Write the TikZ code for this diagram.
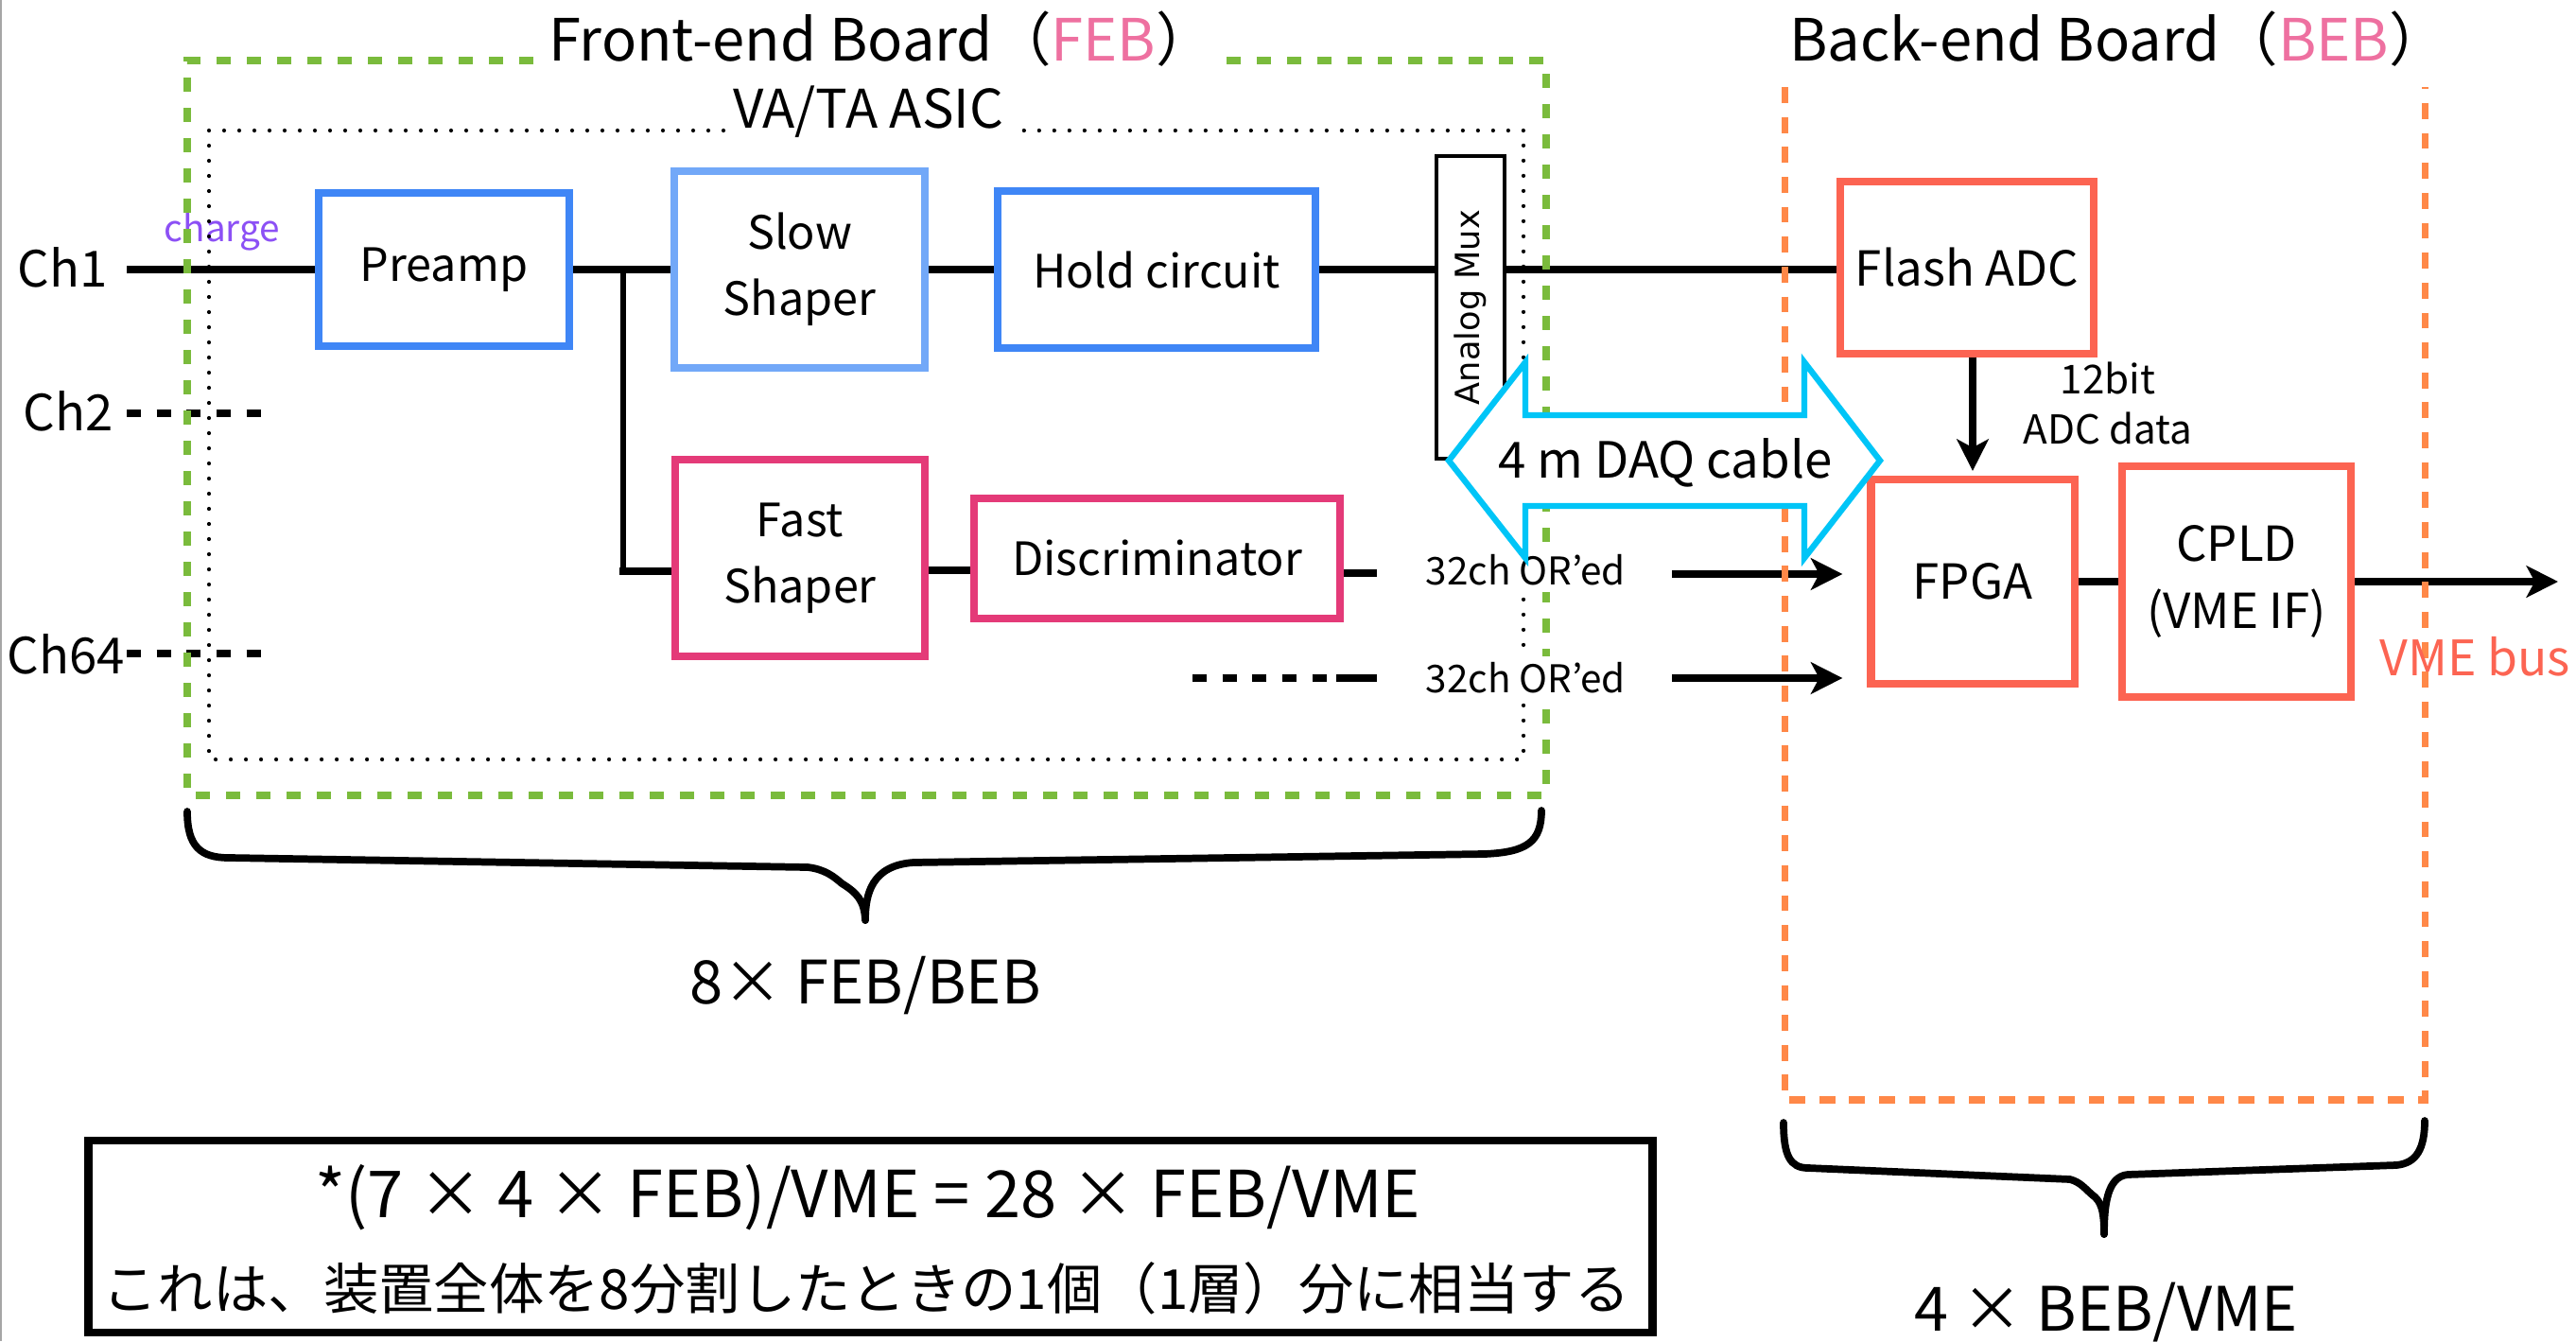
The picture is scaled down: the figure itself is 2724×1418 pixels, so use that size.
\documentclass[tikz,border=0pt]{standalone}
\usepackage{fontspec}
\setmainfont{Noto Sans CJK JP}
\newfontfamily\muxfont{DejaVu Sans}
\usetikzlibrary{arrows.meta}
\definecolor{boxblue}{HTML}{3F86F6}
\definecolor{boxlightblue}{HTML}{72A8F8}
\definecolor{boxpink}{HTML}{E43A78}
\definecolor{boxred}{HTML}{FC6452}
\definecolor{febgreen}{HTML}{7ABB3C}
\definecolor{beborange}{HTML}{FF8848}
\definecolor{titlepink}{HTML}{EE70A0}
\definecolor{chargeviolet}{HTML}{8C50F5}
\definecolor{cablecyan}{HTML}{00C5F7}
\tikzset{
  blk/.style={draw, line width=2.3pt, inner sep=0pt, align=center,
    font=\fontsize{13.8pt}{20pt}\selectfont},
  wire/.style={line width=2.3pt},
  thinwire/.style={line width=1.6pt},
  arr/.style={line width=2.1pt, -{Stealth[length=9.5pt, width=9.5pt, inset=2.5pt]}},
  chdash/.style={line width=2.3pt, dash pattern=on 4.3pt off 4.7pt},
  febline/.style={febgreen, line width=2.3pt, dash pattern=on 4.3pt off 4.8pt},
  bebline/.style={beborange, line width=2pt, dash pattern=on 4.8pt off 4.2pt},
  asicline/.style={line width=1.2pt, line cap=round, dash pattern=on 0pt off 4.55pt},
  lbl/.style={inner sep=0pt, font=\fontsize{15pt}{18pt}\selectfont},
  small/.style={inner sep=0pt, font=\fontsize{12pt}{14pt}\selectfont},
  titletext/.style={inner sep=0pt, font=\fontsize{17.5pt}{22pt}\selectfont},
  bracepath/.style={line width=2.2pt, line cap=round, line join=round},
}
\begin{document}
\begin{tikzpicture}[x=0.01cm, y=-0.01cm]
\useasboundingbox (0,0) rectangle (2724,1418);
\fill[white] (0,0) rectangle (2724,1418);
\draw[gray!70, line width=0.7pt] (1,0) -- (1,1418);

% ---- front-end blocks ----
\node[blk, draw=boxblue, minimum width=2.65cm, minimum height=1.62cm] (pre) at (469.5,285) {Preamp};
\node[blk, draw=boxlightblue, minimum width=2.65cm, minimum height=2.07cm] (slow) at (845.5,285) {Slow\\Shaper};
\node[blk, draw=boxblue, minimum width=3.36cm, minimum height=1.65cm] (hold) at (1223,285) {Hold circuit};
\node[draw, line width=1.3pt, minimum width=0.72cm, minimum height=3.2cm, inner sep=0pt] (mux) at (1555,325) {};
\node[rotate=90, inner sep=0pt, font=\muxfont\fontsize{10pt}{12pt}\selectfont] (muxlbl) at (mux.center) {Analog Mux};
\node[blk, draw=boxpink, minimum width=2.64cm, minimum height=2.08cm] (fast) at (846,590) {Fast\\Shaper};
\node[blk, draw=boxpink, minimum width=3.87cm, minimum height=1.27cm] (disc) at (1223.5,590.5) {Discriminator};

% ---- back-end blocks ----
\node[blk, draw=boxred, minimum width=2.67cm, minimum height=1.81cm, font=\fontsize{14.5pt}{20pt}\selectfont] (flash) at (2080,283) {Flash ADC};
\node[blk, draw=boxred, minimum width=2.15cm, minimum height=2.16cm, font=\fontsize{14.5pt}{20pt}\selectfont] (fpga) at (2086,615) {FPGA};
\node[blk, draw=boxred, minimum width=2.42cm, minimum height=2.43cm, font=\fontsize{14.5pt}{20pt}\selectfont] (cpld) at (2365,615) {CPLD\\(VME IF)};

% ---- channel inputs ----
\node[lbl] (ch1) at (66,283) {Ch1};
\node[lbl] (ch2) at (72,435) {Ch2};
\node[lbl] (ch64) at (70,692) {Ch64};
\node[inner sep=0pt, font=\fontsize{11pt}{13pt}\selectfont, text=chargeviolet] (charge) at (235,245) {charge};
\coordinate (c1) at (134,285);
\coordinate (c2a) at (134,437);
\coordinate (c2b) at (277,437);
\coordinate (c64a) at (134,691);
\coordinate (c64b) at (277,691);

% ---- signal wires ----
\draw[wire] (c1) -- (pre.west);
\draw[wire] (pre.east) -- (slow.west);
\draw[wire] (slow.east) -- (hold.west);
\draw[wire] (hold.east) -- (hold.east -| mux.west);
\draw[wire] (mux.east |- 0,285) -- (flash.west |- 0,285);
\coordinate (br) at (659,285);
\coordinate (lo) at ([yshift=-0.14cm]fast.west);
\draw[thinwire] (br) -- (br |- lo);
\draw[wire] ([xshift=-0.04cm]br |- lo) -- (lo);
\draw[wire] ([yshift=-0.13cm]fast.east) -- ([yshift=-0.13cm]fast.east -| disc.west);
\coordinate (s1) at (1456,606);
\draw[wire] (disc.east |- s1) -- (s1);
\draw[chdash] (c2a) -- (c2b);
\draw[chdash] (c64a) -- (c64b);
\coordinate (d2a) at (1261,717);
\coordinate (d2b) at (1413,717);
\coordinate (d2c) at (1456,717);
\draw[chdash] (d2a) -- (d2b);
\draw[wire] (d2b) -- (d2c);

% ---- back-end wiring ----
\coordinate (a1) at (1768,607);
\coordinate (a2) at (1768,717);
\draw[arr, shorten >=0.26cm] (a1) -- (a1 -| fpga.west);
\draw[arr, shorten >=0.26cm] (a2) -- (a2 -| fpga.west);
\draw[arr, shorten >=0.05cm] (flash.south -| fpga.north) -- (fpga.north);
\draw[wire] (fpga.east) -- (cpld.west);
\coordinate (vme) at (2705,615);
\draw[arr] (cpld.east) -- (vme);

% ---- board outlines ----
\draw[febline] (564,64) -- (198,64) -- (198,841) -- (1635,841) -- (1635,64) -- (1287,64);
\draw[asicline] (765,138) -- (221,138) -- (221,803) -- (1611,803) -- (1611,138) -- (1070,138);
\draw[bebline] (1887,92) -- (1887,1163) -- (2564,1163) -- (2564,92);

% ---- labels ----
\node[titletext] (febt) at (932,41) {Front-end Board（\textcolor{titlepink}{FEB}）};
\node[titletext] (bebt) at (2240,41) {Back-end Board（\textcolor{titlepink}{BEB}）};
\node[inner sep=0pt, font=\fontsize{16pt}{18pt}\selectfont] (asic) at (918,118) {VA/TA ASIC};
\node[inner sep=2pt, fill=white, font=\fontsize{11.5pt}{14pt}\selectfont] (or1) at (1613,603) {32ch OR’ed};
\node[inner sep=2pt, fill=white, font=\fontsize{11.5pt}{14pt}\selectfont] (or2) at (1613,717) {32ch OR’ed};
\node[small] (bits) at (2229,400) {12bit};
\node[small] (adcd) at (2229,453) {ADC data};
\node[inner sep=0pt, font=\fontsize{14.7pt}{18pt}\selectfont, text=boxred] (vmebus) at (2617,694) {VME bus};

% ---- DAQ cable ----
\draw[cablecyan, line width=1.8pt, fill=white, line join=miter]
  (1532,487) -- (1613,383) -- (1613,439) -- (1908,439) -- (1908,383) -- (1988,487)
  -- (1908,590) -- (1908,535) -- (1613,535) -- (1613,590) -- cycle;
\node[inner sep=0pt, font=\fontsize{15pt}{18pt}\selectfont] (cable) at (1761,489) {4 m DAQ cable};

% ---- braces ----
\draw[bracepath] (198,858) .. controls (198,895) and (212,907) .. (242,907)
  -- (854,917) .. controls (872,919) and (882,927) .. (890,934)
  .. controls (906,944) and (914,952) .. (915,973);
\draw[bracepath] (915,973) .. controls (915,945) and (922,915) .. (966,912)
  -- (1570,903) .. controls (1615,901) and (1630,890) .. (1630,857);
\node[inner sep=0pt, font=\fontsize{18pt}{22pt}\selectfont] (feblbl) at (915,1042) {8× FEB/BEB};

\draw[bracepath] (1886,1187) .. controls (1886,1222) and (1893,1235) .. (1912,1235)
  -- (2189,1247) .. controls (2200,1250) and (2205,1257) .. (2212,1263)
  .. controls (2222,1270) and (2225,1280) .. (2225,1305);
\draw[bracepath] (2225,1305) .. controls (2225,1275) and (2228,1244) .. (2250,1242)
  -- (2534,1232) .. controls (2555,1230) and (2564,1215) .. (2564,1185);
\node[inner sep=0pt, font=\fontsize{18.4pt}{22pt}\selectfont] (beblbl) at (2227,1388) {4 × BEB/VME};

% ---- note ----
\node[draw, line width=2.3pt, minimum width=16.53cm, minimum height=2.03cm, inner sep=0pt] (note) at (920.5,1307.5) {};
\node[inner sep=0pt, font=\fontsize{19.5pt}{22pt}\selectfont] (note1) at (918,1266) {*(7 × 4 × FEB)/VME = 28 × FEB/VME};
\node[inner sep=0pt, font=\fontsize{16.6pt}{20pt}\selectfont] (note2) at (916,1362) {これは、装置全体を8分割したときの1個（1層）分に相当する};
\end{tikzpicture}
\end{document}
